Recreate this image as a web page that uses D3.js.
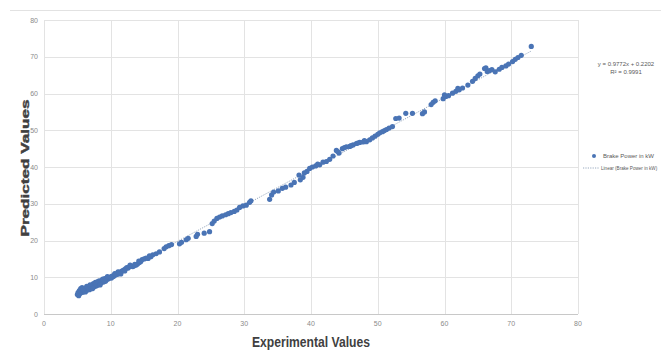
<!DOCTYPE html>
<html>
<head>
<meta charset="utf-8">
<script src="https://cdn.jsdelivr.net/npm/d3@7"></script>
<style>
  body { margin: 0; background: #fff; }
  svg { display: block; font-family: "Liberation Sans", Arial, sans-serif; }
</style>
</head>
<body>
<svg id="chart" width="661" height="352"></svg>
<script>
// experimental (x) vs predicted (y) brake power
var expX = [5.0,5.1,5.3,5.4,5.5,5.6,5.7,5.8,5.9,6.0,6.1,6.2,6.3,6.5,6.6,6.8,7.0,7.1,7.2,7.4,
  7.5,7.6,7.8,7.9,8.0,8.2,8.3,8.5,8.6,8.7,8.9,9.0,9.1,9.3,9.4,9.6,9.7,9.9,10.0,10.2,
  10.4,10.5,10.7,10.9,11.0,11.2,11.4,11.6,11.8,12.0,12.2,12.4,12.6,12.8,13.0,13.3,13.5,13.8,14.0,14.3,
  14.5,14.7,15.0,15.3,15.6,16.0,16.3,16.8,17.3,18.0,18.3,18.7,19.1,20.3,20.6,21.3,21.6,22.8,23.0,24.0,
  24.8,25.2,25.5,25.9,26.3,26.7,27.2,27.6,28.0,28.5,28.9,29.3,29.8,30.3,30.8,31.0,33.8,34.1,34.4,35.1,
  35.7,36.2,37.0,37.5,38.2,38.4,38.8,39.4,39.8,40.2,40.7,41.3,41.8,42.3,42.8,43.3,43.8,44.2,44.7,45.3,
  45.8,46.3,46.8,47.3,47.8,48.3,48.8,49.2,49.6,50.0,50.3,50.7,51.0,51.3,51.7,52.2,52.7,53.2,54.2,55.2,
  56.7,57.0,58.0,58.3,58.6,59.8,60.2,60.6,61.2,61.7,62.2,62.7,63.5,64.2,64.6,65.0,65.3,66.2,66.4,66.7,
  67.1,67.6,68.2,68.6,69.2,69.6,70.2,70.6,71.0,71.5,73.0,
  5.2,5.8,6.4,6.9,7.3,7.7,8.1,8.4,8.8,9.2,9.5,10.1,10.6,11.1,11.5,12.1,12.9,13.6,14.2,15.8,
  44.0,45.0,46.0,47.0,48.0,39.0,41.0,60.0,62.0,66.0];
var predY = [5.3,5.8,6.4,5.6,6.9,6.1,7.2,5.9,6.6,6.3,7.0,6.0,6.8,6.5,7.1,6.6,7.0,7.4,6.9,8.3,
  7.4,7.8,7.6,8.0,7.8,8.2,9.0,8.4,8.8,9.2,8.7,9.1,9.6,9.2,9.7,9.5,9.9,9.8,10.1,10.3,
  10.2,10.5,10.6,10.9,10.8,11.3,11.2,11.6,11.8,12.0,12.3,12.6,12.5,12.9,13.0,12.9,13.1,13.3,13.6,14.0,
  14.3,14.8,15.0,15.2,15.1,15.6,16.1,16.4,16.9,17.8,18.3,18.6,18.9,19.1,19.5,20.2,20.6,21.1,21.7,22.0,
  22.4,24.6,25.3,26.0,26.4,26.7,27.0,27.3,27.6,27.9,28.3,29.0,29.4,29.6,30.4,30.8,31.2,32.4,33.2,33.5,
  34.2,34.5,35.1,35.8,37.8,36.5,37.2,38.8,39.6,40.0,40.3,40.6,41.3,41.5,42.1,43.0,44.5,43.8,45.0,45.5,
  45.6,46.0,46.4,46.7,46.8,46.9,47.4,47.9,48.4,48.9,49.3,49.6,49.9,50.2,50.6,51.0,53.2,53.3,54.6,54.6,
  54.5,55.0,57.0,57.6,58.0,58.6,59.2,59.4,60.1,60.6,61.0,61.5,62.3,63.3,64.1,64.8,65.3,67.0,66.0,66.2,
  66.5,65.9,66.6,67.1,67.5,68.0,68.7,69.3,69.8,70.4,72.8,
  5.0,6.8,7.5,7.9,7.0,8.6,8.9,7.9,9.5,8.9,10.2,9.8,11.0,11.5,10.9,11.7,13.3,13.5,14.4,15.8,
  44.2,45.3,45.8,46.5,47.2,38.4,40.8,59.6,61.4,66.8];
var xTicks = [0, 10, 20, 30, 40, 50, 60, 70, 80];
var yTicks = [0, 10, 20, 30, 40, 50, 60, 70, 80];
var trendSlope = 0.9772, trendIntercept = 0.2202;
var trendRange = [5, 73];
var eqLines = ["y = 0.9772x + 0.2202", "R\u00b2 = 0.9991"];
var legendLabels = ["Brake Power in kW", "Linear (Brake Power in kW)"];

var svg = d3.select("#chart");
var margin = {left: 44, top: 20, right: 83, bottom: 38};
var W = 661, H = 352;
var x = d3.scaleLinear().domain([0, 80]).range([margin.left, W - margin.right]);
var y = d3.scaleLinear().domain([0, 80]).range([H - margin.bottom, margin.top]);

var blue = "#4a74b5";

// faint line at the very top
svg.append("line").attr("x1", 10).attr("x2", 661).attr("y1", 10.5).attr("y2", 10.5)
  .attr("stroke", "#e2e2e2");

// grid
svg.append("g").selectAll("line").data(yTicks).enter().append("line")
  .attr("x1", x(0)).attr("x2", x(80))
  .attr("y1", function(d) { return Math.round(y(d)) + 0.5; })
  .attr("y2", function(d) { return Math.round(y(d)) + 0.5; })
  .attr("stroke", function(d) { return d === 0 ? "#c8c8c8" : "#e3e3e3"; });
svg.append("g").selectAll("line").data(xTicks).enter().append("line")
  .attr("y1", y(0)).attr("y2", y(80))
  .attr("x1", function(d) { return Math.round(x(d)) + 0.5; })
  .attr("x2", function(d) { return Math.round(x(d)) + 0.5; })
  .attr("stroke", "#e3e3e3");

// tick labels
svg.append("g").selectAll("text").data(yTicks).enter().append("text")
  .attr("x", x(0) - 6).attr("y", function(d) { return y(d) + 2.5; })
  .attr("text-anchor", "end").attr("font-size", 7).attr("fill", "#8a8a8a")
  .text(function(d) { return d; });
svg.append("g").selectAll("text").data(xTicks).enter().append("text")
  .attr("x", function(d) { return x(d); }).attr("y", y(0) + 12)
  .attr("text-anchor", "middle").attr("font-size", 7).attr("fill", "#8a8a8a")
  .text(function(d) { return d; });

// trendline
var line = d3.line().x(function(d) { return x(d); })
  .y(function(d) { return y(trendSlope * d + trendIntercept); });
svg.append("path").datum(trendRange).attr("d", line)
  .attr("fill", "none").attr("stroke", "#8c9fb8").attr("stroke-width", 0.9)
  .attr("stroke-dasharray", "1.2,1.2");

// points
svg.append("g").selectAll("circle").data(d3.range(expX.length)).enter().append("circle")
  .attr("cx", function(i) { return x(expX[i]); })
  .attr("cy", function(i) { return y(predY[i]); })
  .attr("r", 2.6).attr("fill", blue);

// equation
svg.append("g").selectAll("text").data(eqLines).enter().append("text")
  .attr("x", 626).attr("y", function(d, i) { return 66 + i * 8; })
  .attr("text-anchor", "middle").attr("font-size", 6).attr("fill", "#595959")
  .text(function(d) { return d; });

// legend
svg.append("circle").attr("cx", 594).attr("cy", 156).attr("r", 2).attr("fill", blue);
svg.append("line").attr("x1", 583).attr("x2", 599).attr("y1", 168).attr("y2", 168)
  .attr("stroke", "#8c9fb8").attr("stroke-width", 0.9).attr("stroke-dasharray", "1.2,1.2");
svg.append("g").selectAll("text").data(legendLabels).enter().append("text")
  .attr("x", function(d, i) { return i === 1 ? 601 : 603; })
  .attr("y", function(d, i) { return 158 + i * 12; })
  .attr("font-size", function(d, i) { return i === 1 ? 4.6 : 6; })
  .attr("fill", "#595959")
  .text(function(d) { return d; });

// axis titles
svg.append("text").attr("x", 311).attr("y", 347).attr("text-anchor", "middle")
  .attr("font-size", 14).attr("font-weight", "bold").attr("fill", "#404040")
  .attr("textLength", 118).attr("lengthAdjust", "spacingAndGlyphs")
  .text("Experimental Values");
svg.append("text").attr("transform", "translate(28.5,168) rotate(-90)")
  .attr("text-anchor", "middle").attr("font-size", 11).attr("font-weight", "bold")
  .attr("fill", "#404040").attr("textLength", 137).attr("lengthAdjust", "spacingAndGlyphs")
  .attr("stroke", "#404040").attr("stroke-width", 0.4)
  .text("Predicted Values");
</script>
</body>
</html>
